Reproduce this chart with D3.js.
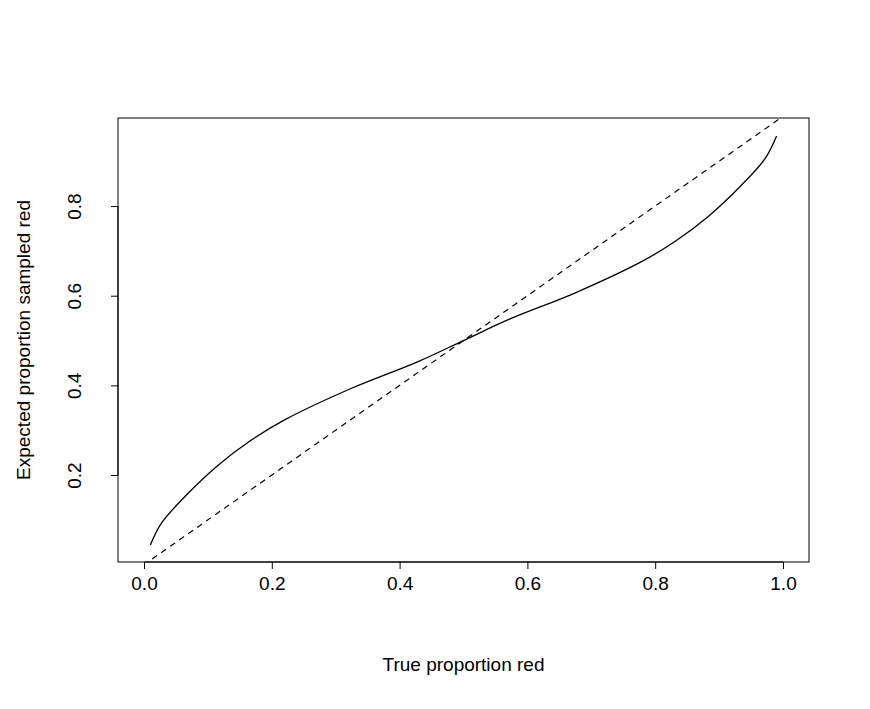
<!DOCTYPE html>
<html><head><meta charset="utf-8">
<script src="https://cdn.jsdelivr.net/npm/d3@7"></script>
<style>body{margin:0;background:#fff}text{font-family:"Liberation Sans",Arial,sans-serif}</style>
</head><body><svg id="c" width="870" height="709"></svg>
<script>
// curve (symmetric around 0.5)
var trueP = [0.01, 0.027, 0.064, 0.116, 0.168, 0.22, 0.324, 0.429, 0.5, 0.571, 0.676, 0.78, 0.832, 0.884, 0.936, 0.973, 0.99];
var expP  = [0.044, 0.092, 0.152, 0.222, 0.278, 0.323, 0.393, 0.453, 0.5, 0.547, 0.607, 0.677, 0.722, 0.778, 0.848, 0.908, 0.956];
var xTicks = [0, 0.2, 0.4, 0.6, 0.8, 1.0];
var yTicks = [0.2, 0.4, 0.6, 0.8];

var svg = d3.select("#c");
var L = 118, R = 809, T = 118, B = 562;
var x = d3.scaleLinear().domain([-0.0407, 1.0407]).range([L, R]);
var y = d3.scaleLinear().domain([0.006, 0.9964]).range([B, T]);

svg.append("clipPath").attr("id", "clip").append("rect")
    .attr("x", L).attr("y", T).attr("width", R - L).attr("height", B - T);

// dashed y = x
svg.append("line").attr("clip-path", "url(#clip)")
    .attr("x1", x(-0.1)).attr("y1", y(-0.1)).attr("x2", x(1.1)).attr("y2", y(1.1))
    .attr("stroke", "#000").attr("stroke-width", 1.2).attr("stroke-dasharray", "6,5");

var line = d3.line().x(function (d) { return x(d); }).y(function (d, i) { return y(expP[i]); })
    .curve(d3.curveCatmullRom.alpha(0.5));
svg.append("path").datum(trueP).attr("d", line)
    .attr("fill", "none").attr("stroke", "#000").attr("stroke-width", 1.3);

svg.append("rect").attr("x", L).attr("y", T).attr("width", R - L).attr("height", B - T)
    .attr("fill", "none").attr("stroke", "#000");

// axes in R style
var xa = svg.append("g").attr("transform", "translate(0," + B + ")")
    .call(d3.axisBottom(x).tickValues(xTicks).tickFormat(d3.format(".1f")).tickSize(7).tickPadding(8));
xa.select(".domain").attr("d", "M" + x(0) + ",0H" + x(1));
var ya = svg.append("g").attr("transform", "translate(" + L + ",0)")
    .call(d3.axisLeft(y).tickValues(yTicks).tickFormat(d3.format(".1f")).tickSize(7));
ya.select(".domain").attr("d", "M0," + y(0.2) + "V" + y(0.8));
ya.selectAll(".tick text").attr("x", 0).attr("dy", 0).attr("text-anchor", "middle")
    .attr("transform", "translate(-37,0) rotate(-90)");
svg.selectAll(".tick text").attr("font-size", 19).attr("font-family", "Liberation Sans, Arial, sans-serif");

svg.append("text").attr("x", (L + R) / 2).attr("y", 671).attr("text-anchor", "middle")
    .attr("font-size", 19).text("True proportion red");
svg.append("text").attr("transform", "translate(30," + (T + B) / 2 + ") rotate(-90)")
    .attr("text-anchor", "middle").attr("font-size", 19).text("Expected proportion sampled red");
</script></body></html>
